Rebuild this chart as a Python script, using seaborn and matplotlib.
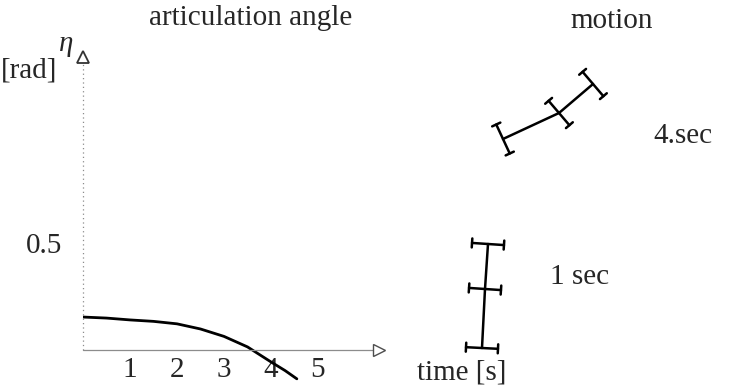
import matplotlib
matplotlib.use('Agg')
import matplotlib.pyplot as plt
import numpy as np
import pandas as pd
import seaborn as sb

# articulation angle over time
time_s = [0, 0.5, 1, 1.5, 2, 2.5, 3, 3.5, 4, 4.3, 4.55]
eta_rad = [0.16, 0.155, 0.146, 0.139, 0.127, 0.102, 0.066, 0.015, -0.058, -0.10, -0.14]
tick_vals = [1, 2, 3, 4, 5]
tick_labels = ['1', '2', '3', '4', '5']

# motion sketch: axle centres (rear, joint, front) in page pixels
snap_1s_x = [482, 485, 488]
snap_1s_y = [348, 289, 244]
snap_4s_x = [503, 559, 593]
snap_4s_y = [139, 113, 84]
axle_half = 16
cap_half = 4.5

sb.set_theme(style='white')
plt.rcParams['font.family'] = ['Liberation Serif', 'DejaVu Serif']
FS = 21

W, H = 730, 388
fig = plt.figure(figsize=(W / 100, H / 100), dpi=100)

# left chart, axes placed so t=0 sits at x=83px and eta=0 at y=350px
px_t, px_eta = 47.0, 206.0
x0, y0 = 83, 350
left, right, top, bottom = 83, 383, 50, 385
ax = fig.add_axes([left / W, (H - bottom) / H, (right - left) / W, (bottom - top) / H])
ax.set_xlim(0, (right - left) / px_t)
ax.set_ylim((y0 - bottom) / px_eta, (y0 - top) / px_eta)
ax.patch.set_alpha(0)
for s in ax.spines.values():
    s.set_visible(False)
ax.spines['bottom'].set_position(('data', 0))
ax.set_yticks([])
ax.set_xticks(tick_vals)
ax.set_xticklabels(tick_labels, fontsize=FS)
ax.tick_params(axis='x', length=0, pad=5)

df = pd.DataFrame({'t': time_s, 'eta': eta_rad})
sb.lineplot(data=df, x='t', y='eta', color='black', lw=2.0, ax=ax)
ax.set_xlabel('')
ax.set_ylabel('')

xmax = (375 - x0) / px_t
ymax = (y0 - 62) / px_eta
ax.plot([0, xmax], [0, 0], color='0.55', lw=0.9, clip_on=False)
ax.plot([0, 0], [0, ymax], color='0.55', lw=0.9, ls=(0, (1, 2.5)), clip_on=False)
ax.plot([xmax + 4 / px_t], [0], marker='>', ms=9, mfc='white', mec='0.3', mew=1.0, clip_on=False)
ax.plot([0], [(y0 - 57) / px_eta], marker='^', ms=9, mfc='white', mec='0.2', mew=1.3, clip_on=False)

# overlay in page pixels for texts and the motion sketch
ov = fig.add_axes([0, 0, 1, 1])
ov.set_xlim(0, W)
ov.set_ylim(H, 0)
ov.axis('off')
ov.patch.set_alpha(0)

ov.text(251, 18, 'articulation angle', fontsize=FS, ha='center', va='center')
ov.text(612, 21, 'motion', fontsize=FS, ha='center', va='center')
ov.text(66, 44, 'η', fontsize=FS, style='italic', ha='center', va='center')
ov.text(29, 71, '[rad]', fontsize=FS, ha='center', va='center')
ov.text(44, 246, '0.5', fontsize=FS, ha='center', va='center')
ov.text(462, 373, 'time [s]', fontsize=FS, ha='center', va='center')
ov.text(683, 136, '4.sec', fontsize=FS, ha='center', va='center')
ov.text(580, 277, '1 sec', fontsize=FS, ha='center', va='center')


def draw_vehicle(xs, ys):
    xs = np.array(xs, float)
    ys = np.array(ys, float)
    ov.plot(xs, ys, color='black', lw=1.8, solid_capstyle='round')
    rear = np.array([xs[1] - xs[0], ys[1] - ys[0]])
    front = np.array([xs[2] - xs[1], ys[2] - ys[1]])
    dirs = [rear, front, front]
    for cx, cy, d in zip(xs, ys, dirs):
        d = d / np.hypot(*d)
        n = np.array([-d[1], d[0]])
        a = np.array([cx, cy]) - n * axle_half
        b = np.array([cx, cy]) + n * axle_half
        ov.plot([a[0], b[0]], [a[1], b[1]], color='black', lw=1.8)
        for p in (a, b):
            ov.plot([p[0] - d[0] * cap_half, p[0] + d[0] * cap_half],
                    [p[1] - d[1] * cap_half, p[1] + d[1] * cap_half], color='black', lw=1.8)


draw_vehicle(snap_1s_x, snap_1s_y)
draw_vehicle(snap_4s_x, snap_4s_y)

fig.savefig('out.png', dpi=100)
